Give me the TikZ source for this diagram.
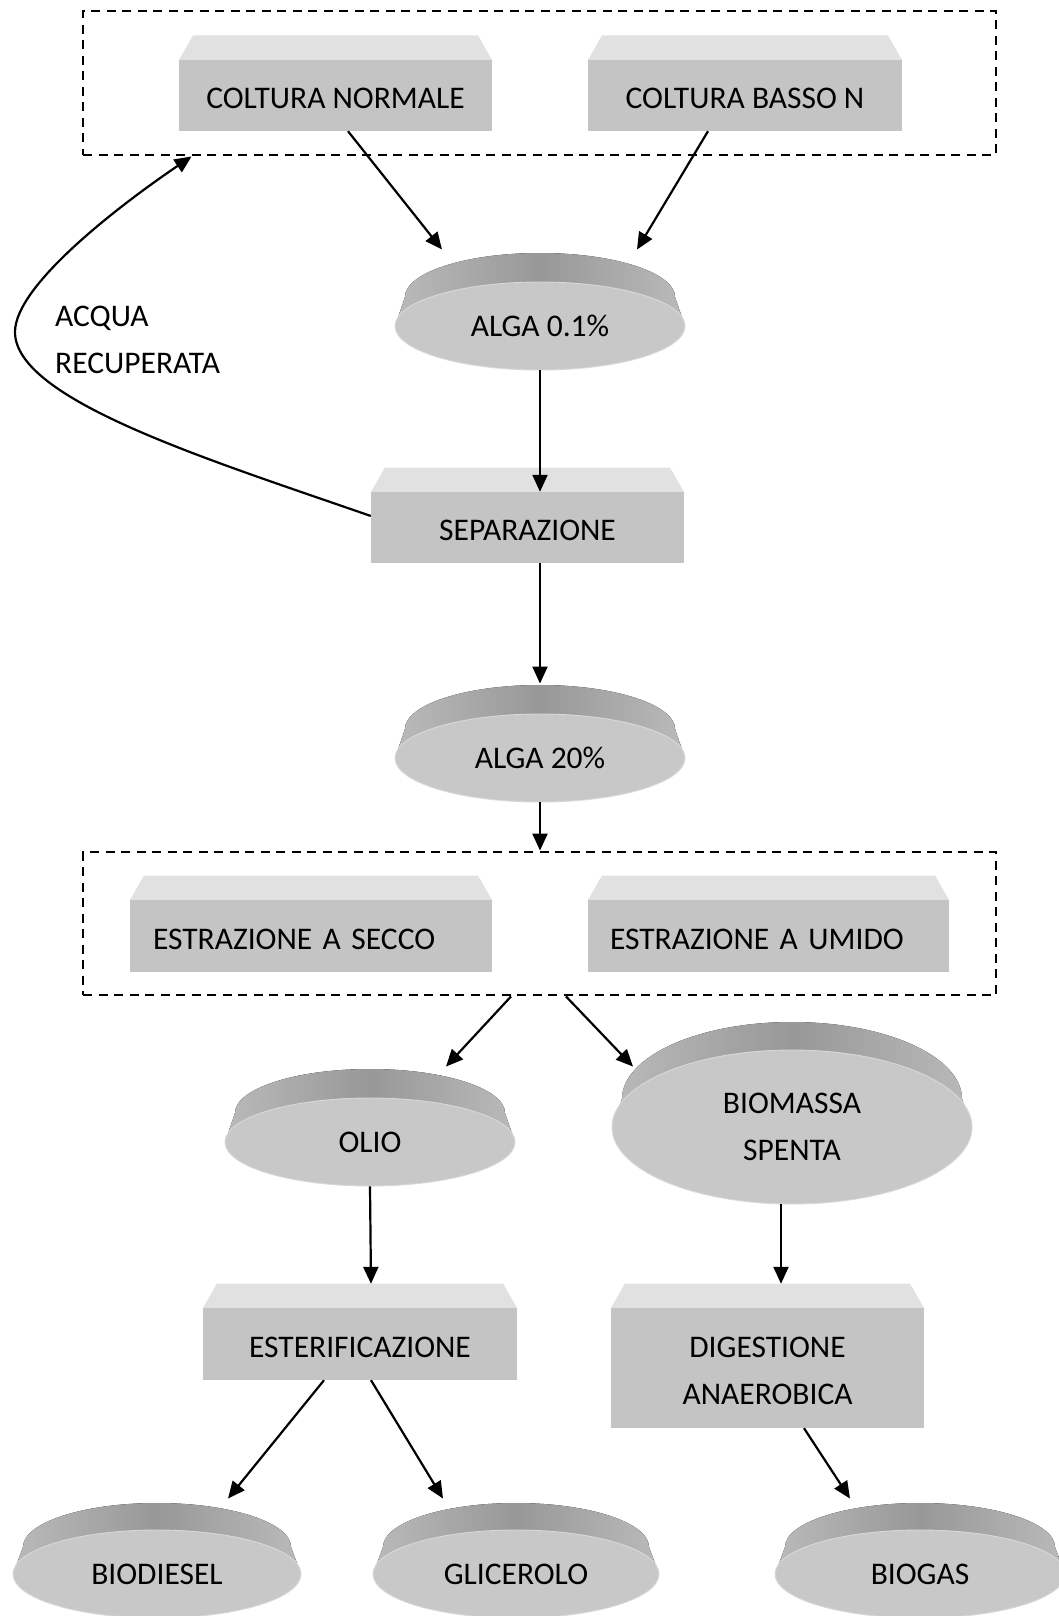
\documentclass[tikz,border=0pt]{standalone}
\usepackage{fontspec}
\setmainfont{Carlito}
\usetikzlibrary{shapes.geometric,arrows.meta,calc}
\definecolor{boxface}{RGB}{196,196,196}
\definecolor{boxtop}{RGB}{225,225,225}
\definecolor{discface}{RGB}{200,200,200}
\definecolor{discrim}{RGB}{216,216,216}
\definecolor{sidelight}{RGB}{186,186,186}
\definecolor{sidedark}{RGB}{152,152,152}

\tikzset{
  every node/.style={font=\fontsize{31.5}{47.5}\selectfont, text=black},
  procbox/.style={rectangle, fill=boxface, inner sep=0pt, align=center},
  discnode/.style={ellipse, fill=discface, draw=discrim, line width=0.9pt, inner sep=0pt, align=center},
  grpbox/.style={rectangle, draw=black, dash pattern=on 9pt off 6.5pt, line width=2.9pt, inner sep=0pt, minimum width=913pt},
  arr/.style={-{Triangle[length=17pt,width=15pt]}, line width=2.2pt},
}
\newcommand{\capstrut}{\rule{0pt}{26.5pt}}

% name, cx, cy, w, h, text, options
\newcommand{\bevelbox}[7]{%
  \fill[boxtop] ({#2-#4/2},{#3-#5/2}) -- ({#2-#4/2+14},{#3-#5/2-24.5}) -- ({#2+#4/2-14},{#3-#5/2-24.5}) -- ({#2+#4/2},{#3-#5/2}) -- cycle;
  \node[procbox, minimum width=#4pt, minimum height=#5pt, #7] (#1) at (#2,#3) {\capstrut#6};
}
% name, cx, cy, rx, ry, lift, text
\newcommand{\discshape}[7]{%
  \fill[left color=sidelight, right color=sidelight, middle color=sidedark]
    ({#2-#4},{#3}) -- ({#2-#4+10},{#3-#6}) arc[start angle=180, end angle=360, x radius={#4-10}, y radius=#5] -- ({#2+#4},{#3}) -- cycle;
  \node[discnode, minimum width=2*#4pt, minimum height=2*#5pt] (#1) at (#2,#3) {#7};
}

\begin{document}
\begin{tikzpicture}[x=1pt,y=-1pt]
\useasboundingbox (0,0) rectangle (1059,1616);
\fill[white] (0,0) rectangle (1059,1616);
\clip (0,0) rectangle (1059,1616);

% group frames
\node[grpbox, minimum height=144pt] (grp1) at (539.5,83) {};
\node[grpbox, minimum height=143pt] (grp2) at (539.5,923.5) {};

% boxes
\bevelbox{cn}{335.5}{95.5}{313}{71}{COLTURA NORMALE}{}
\bevelbox{cbn}{745}{95.5}{314}{71}{COLTURA BASSO N}{}
\bevelbox{sep}{527.5}{527.5}{313}{71}{SEPARAZIONE}{}
\bevelbox{ess}{311}{936}{362}{72}{ESTRAZIONE A SECCO}{text width=316pt, inner xsep=23pt, align=left}
\bevelbox{esu}{768.5}{936}{361}{72}{ESTRAZIONE A UMIDO}{text width=317pt, inner xsep=22pt, align=left}
\bevelbox{est}{360}{1344}{314}{72}{ESTERIFICAZIONE}{}
\bevelbox{dig}{767.5}{1368}{313}{120}{DIGESTIONE\\ANAEROBICA}{}

% discs
\discshape{a1}{540}{326}{145}{44}{29}{ALGA 0.1\%}
\discshape{a2}{540}{758}{145}{44}{29}{ALGA 20\%}
\discshape{olio}{370}{1142}{145}{44}{29}{OLIO}
\discshape{bio}{792}{1127}{180}{77}{28}{BIOMASSA\\SPENTA}
\discshape{bd}{157}{1574}{144}{44}{27}{BIODIESEL}
\discshape{gl}{516}{1574}{143}{44}{27}{GLICEROLO}
\discshape{bg}{920}{1574}{145}{44}{27}{BIOGAS}

% label
\node[anchor=west, align=left, inner sep=0pt] (acqua) at (55,340) {ACQUA\\RECUPERATA};

% connectors
\draw[arr] ([xshift=12.5pt]cn.south) -- ([xshift=-98pt,yshift=32pt]a1.north);
\draw[arr] ([xshift=-37pt]cbn.south) -- ([xshift=97pt,yshift=32pt]a1.north);
\draw[arr] (a1.south) -- ([xshift=12.5pt]sep.north);
\draw[arr] ([yshift=11.5pt]sep.west) .. controls (210,460) and (15,400) .. (15,332)
           .. controls (15,285) and (120,205) .. ([xshift=110pt]grp1.south west);
\draw[arr] ([xshift=12.5pt]sep.south) -- ([yshift=30pt]a2.north);
\draw[arr] (a2.south) -- (a2.south |- grp2.north);
\draw[arr] ([xshift=-28.5pt]grp2.south) -- ([xshift=76pt,yshift=31pt]olio.north);
\draw[arr] ([xshift=26.5pt]grp2.south) -- ([xshift=-159pt,yshift=-17pt]bio.north);
\draw[arr] (olio.south) -- ([xshift=11pt,yshift=24pt]est.north);
\draw[arr] ([xshift=-11pt]bio.south) -- ([xshift=13.5pt,yshift=24pt]dig.north);
\draw[arr] ([xshift=-36pt]est.south) -- ([xshift=71pt,yshift=31pt]bd.north);
\draw[arr] ([xshift=11pt]est.south) -- ([xshift=-73pt,yshift=31pt]gl.north);
\draw[arr] ([xshift=36.5pt]dig.south) -- ([xshift=-70pt,yshift=31pt]bg.north);
\end{tikzpicture}
\end{document}
